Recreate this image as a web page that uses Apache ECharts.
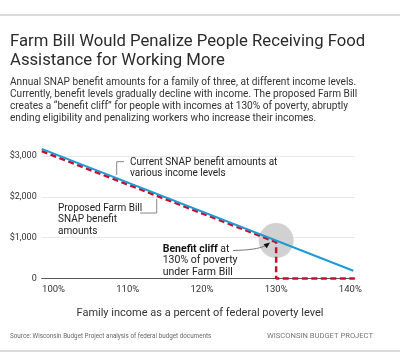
<!DOCTYPE html>
<html>
<head>
<meta charset="utf-8">
<script src="https://cdn.jsdelivr.net/npm/echarts@6/dist/echarts.min.js"></script>
<style>
html,body{margin:0;padding:0;background:#fff;}
#c{width:400px;height:355px;}
</style>
</head>
<body>
<div id="c"></div>
<script>
// ---- data ----
var xTickValues = [100, 110, 120, 130, 140];
var yTickValues = [0, 1000, 2000, 3000];
var currentIncome = [98.4, 140.4];
var currentBenefit = [3174, 191];
var proposedIncome = [98.4, 130, 130, 140.6];
var proposedBenefit = [3120, 890, 0, 0];
var cliffIncome = [130];
var cliffBenefit = [930];

var titleText = 'Farm Bill Would Penalize People Receiving Food\nAssistance for Working More';
var subtitleText = 'Annual SNAP benefit amounts for a family of three, at different income levels.\nCurrently, benefit levels gradually decline with income. The proposed Farm Bill\ncreates a \u201cbenefit cliff\u201d for people with incomes at 130% of poverty, abruptly\nending eligibility and penalizing workers who increase their incomes.';
var xAxisTitle = 'Family income as a percent of federal poverty level';
var sourceText = 'Source: Wisconsin Budget Project analysis of federal budget documents';
var brandText = 'WISCONSIN BUDGET PROJECT';
var noteCurrent = 'Current SNAP benefit amounts at\nvarious income levels';
var noteProposed = 'Proposed Farm Bill\nSNAP benefit\namounts';

function zip(a, b) { return a.map(function (v, i) { return [v, b[i]]; }); }

var FONT = 'Roboto, "Noto Sans", sans-serif';
var chart = echarts.init(document.getElementById('c'), null, {renderer: 'canvas'});

chart.setOption({
  animation: false,
  backgroundColor: '#ffffff',
  grid: {left: 41.7, right: 45.2, top: 156, bottom: 76.5, containLabel: false},
  xAxis: {
    type: 'value', min: 98.4, max: 140.6,
    axisLine: {show: true, lineStyle: {color: '#555', width: 1}},
    axisTick: {show: false},
    splitLine: {show: false},
    axisLabel: {
      customValues: xTickValues,
      formatter: function (v) { return v + '%'; },
      color: '#333', fontFamily: FONT, fontSize: 9.5, margin: 6
    }
  },
  yAxis: {
    type: 'value', min: 0, max: 3000, interval: 1000,
    axisLine: {show: false}, axisTick: {show: false},
    splitLine: {show: true, lineStyle: {color: '#e9e9e9', width: 1}},
    axisLabel: {
      formatter: function (v) { return v === 0 ? '0' : '$' + v.toLocaleString('en-US'); },
      color: '#333', fontFamily: FONT, fontSize: 9, margin: 5
    }
  },
  series: [
    {
      type: 'scatter', data: zip(cliffIncome, cliffBenefit), symbolSize: 35,
      itemStyle: {color: '#cfcfcf', opacity: 0.95}, z: 1, silent: true
    },
    {
      type: 'line', data: zip(proposedIncome, proposedBenefit), showSymbol: false, clip: false,
      lineStyle: {color: '#c8102e', width: 2.5, type: [6, 3.5]}, z: 3
    },
    {
      type: 'line', data: zip(currentIncome, currentBenefit), showSymbol: false, clip: false,
      lineStyle: {color: '#1b9ad6', width: 2}, z: 4
    }
  ],
  graphic: [
    {type: 'line', shape: {x1: 0, y1: 15, x2: 400, y2: 15}, style: {stroke: '#b5b5b5', lineWidth: 1}},
    {type: 'line', shape: {x1: 0, y1: 351, x2: 400, y2: 351}, style: {stroke: '#b5b5b5', lineWidth: 1}},
    {type: 'text', left: 10, top: 32, style: {text: titleText, font: '16.7px ' + FONT, fill: '#2b2b2b', lineHeight: 19}},
    {type: 'text', left: 10, top: 77, style: {text: subtitleText, font: '10.1px ' + FONT, fill: '#333', lineHeight: 11.9}},
    {type: 'text', x: 200, y: 313, style: {text: xAxisTitle, font: '11px ' + FONT, fill: '#333', align: 'center', verticalAlign: 'middle'}},
    {type: 'text', x: 10, y: 336, style: {text: sourceText, font: '6.3px ' + FONT, fill: '#666', verticalAlign: 'middle'}},
    {type: 'text', x: 320, y: 336, style: {text: brandText, font: '7.6px ' + FONT, fill: '#777', align: 'center', verticalAlign: 'middle'}},
    // annotation: current
    {type: 'polyline', shape: {points: [[124, 161.7], [116.7, 161.7], [116.7, 175]]}, style: {stroke: '#888', lineWidth: 1, fill: null}, z: 10},
    {type: 'text', x: 130, y: 168, style: {text: noteCurrent, font: '10px ' + FONT, fill: '#222', lineHeight: 10.5, verticalAlign: 'middle'}, z: 10},
    // annotation: proposed
    {type: 'polyline', shape: {points: [[140, 213], [156.7, 213], [156.7, 199]]}, style: {stroke: '#888', lineWidth: 1, fill: null}, z: 10},
    {type: 'text', x: 58, y: 219.5, style: {text: noteProposed, font: '10px ' + FONT, fill: '#222', lineHeight: 11.5, verticalAlign: 'middle'}, z: 10},
    // annotation: cliff
    {type: 'text', x: 162.7, y: 260.5, style: {
      text: '{b|Benefit cliff} at\n130% of poverty\nunder Farm Bill',
      font: '10.5px ' + FONT, fill: '#222', lineHeight: 11.5, verticalAlign: 'middle',
      rich: {b: {fontWeight: 'bold', fontSize: 10.5, fontFamily: FONT, fill: '#111', lineHeight: 11.5}}
    }, z: 10},
    {type: 'bezierCurve', shape: {x1: 233, y1: 250.5, cpx1: 250, cpy1: 250, cpx2: 258, cpy2: 249, x2: 266, y2: 245.5}, style: {stroke: '#777', lineWidth: 1, fill: null}, z: 10},
    {type: 'polygon', shape: {points: [[270, 242.5], [263.5, 244.2], [266.8, 248.2]]}, style: {fill: '#111'}, z: 10}
  ]
});
</script>
</body>
</html>
